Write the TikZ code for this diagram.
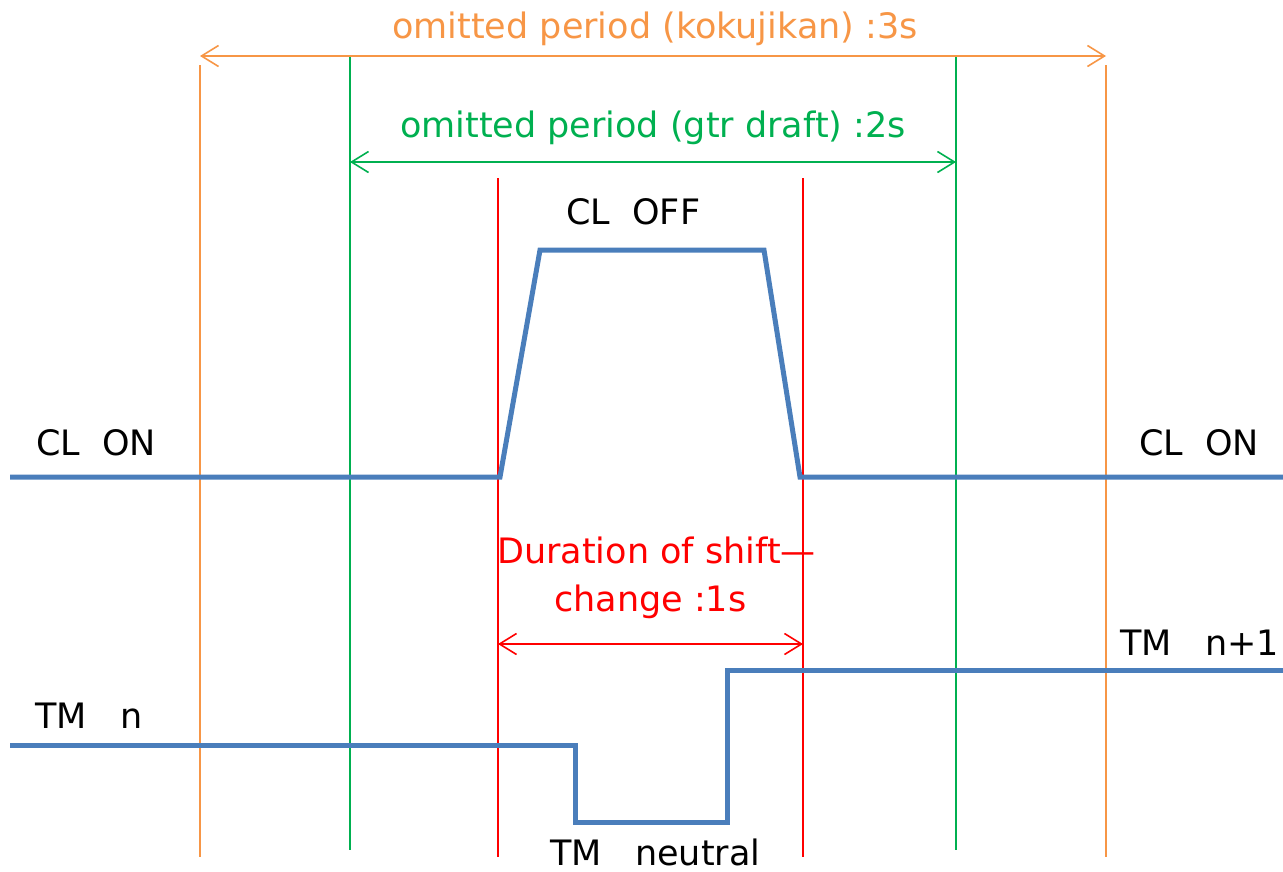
\documentclass[tikz,border=0pt]{standalone}
\usepackage{fontspec}
\setmainfont{DejaVu Sans}
\usetikzlibrary{arrows.meta}
\definecolor{cblue}{HTML}{4A7EBB}
\definecolor{corange}{HTML}{F79646}
\definecolor{cgreen}{HTML}{00B050}
\definecolor{cred}{HTML}{FF0000}
\tikzset{
  lbl/.style={font=\fontsize{35}{41}\selectfont, inner sep=0pt},
  vline/.style={line width=1.5pt},
  sig/.style={line width=5pt, draw=cblue, line join=miter},
  dimarrow/.style={line width=1.6pt,
    {Straight Barb[length=17pt,width=21pt,line width=1.6pt]}-{Straight Barb[length=17pt,width=21pt,line width=1.6pt]}}
}
\begin{document}
\begin{tikzpicture}[x=1pt,y=-1pt]
\useasboundingbox (0,0) rectangle (1283,871);
% vertical lines
\coordinate (oLt) at (200,65);  \coordinate (oLb) at (200,857);
\coordinate (oRt) at (1106,65); \coordinate (oRb) at (1106,857);
\coordinate (gLt) at (350,57);  \coordinate (gLb) at (350,850);
\coordinate (gRt) at (956,57);  \coordinate (gRb) at (956,850);
\coordinate (rLt) at (498,178); \coordinate (rLb) at (498,857);
\coordinate (rRt) at (803,178); \coordinate (rRb) at (803,857);
\draw[vline, corange] (oLt) -- (oLb);
\draw[vline, corange] (oRt) -- (oRb);
\draw[vline, cgreen] (gLt) -- (gLb);
\draw[vline, cgreen] (gRt) -- (gRb);
\draw[vline, cred] (rLt) -- (rLb);
\draw[vline, cred] (rRt) -- (rRb);
% dimension arrows
\coordinate (oaL) at (200,56); \coordinate (oaR) at (1106,56);
\coordinate (gaL) at (350,162); \coordinate (gaR) at (956,162);
\coordinate (raL) at (498,644); \coordinate (raR) at (803,644);
\draw[dimarrow, corange] (oaL) -- (oaR);
\draw[dimarrow, cgreen] (gaL) -- (gaR);
\draw[dimarrow, cred] (raL) -- (raR);
% signals
\coordinate (c0) at (10,477); \coordinate (c1) at (500,477);
\coordinate (c2) at (540,250); \coordinate (c3) at (764,250);
\coordinate (c4) at (800,477); \coordinate (c5) at (1283,477);
\draw[sig] (c0) -- (c1) -- (c2) -- (c3) -- (c4) -- (c5);
\coordinate (t0) at (10,745); \coordinate (t1) at (575,745);
\coordinate (t2) at (575,822); \coordinate (t3) at (727,822);
\coordinate (t4) at (727,670); \coordinate (t5) at (1283,670);
\draw[sig] (t0) -- (t1) -- (t2) -- (t3) -- (t4) -- (t5);
% labels
\node[lbl, text=corange, anchor=base] (lo) at (655,38) {omitted period (kokujikan) :3s};
\node[lbl, text=cgreen, anchor=base] (lg) at (653,137) {omitted period (gtr draft) :2s};
\node[lbl, anchor=base west] (loff) at (566,224) {CL\ \ OFF};
\node[lbl, anchor=base west] (lonl) at (36,455) {CL\ \ ON};
\node[lbl, anchor=base west] (lonr) at (1139,455) {CL\ \ ON};
\node[lbl, text=cred, anchor=base west] (ld1) at (497,563) {Duration of shift—};
\node[lbl, text=cred, anchor=base west] (ld2) at (554,611) {change :1s};
\node[lbl, anchor=base west] (ltn1) at (1120,655) {TM\ \ \ n+1};
\node[lbl, anchor=base west] (ltn) at (35,728) {TM\ \ \ n};
\node[lbl, anchor=base west] (ltneu) at (550,865) {TM\ \ \ neutral};
\end{tikzpicture}
\end{document}
